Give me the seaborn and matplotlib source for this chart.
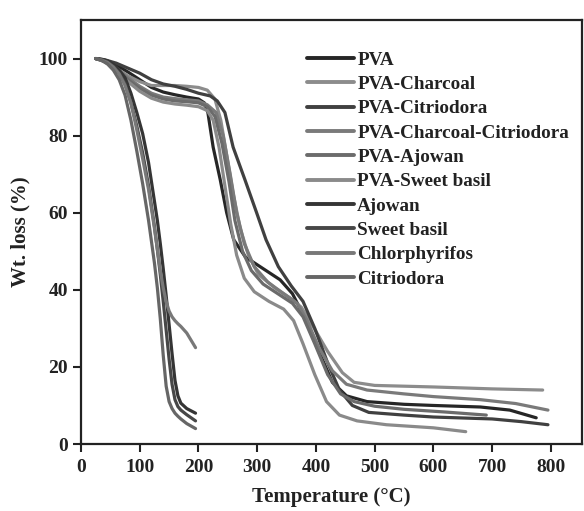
import pandas as pd
import matplotlib
matplotlib.use("Agg")
import matplotlib.pyplot as plt
import seaborn as sns

# TGA curves (temperature in C, weight %)
pva_t = [25, 40, 60, 80, 100, 120, 140, 160, 180, 200, 210, 216, 225, 237, 248, 260, 280, 310,
         339, 360, 380, 405, 428, 452, 487, 550, 600, 680, 730, 775]
pva_w = [100, 99.5, 98.3, 96.5, 94.5, 92.5, 91.3, 90.6, 90, 89.5, 88.5, 86, 77, 68.6, 60, 53, 48.5, 45.5,
         42.6, 39, 33, 24, 16, 12.5, 11, 10.3, 10, 9.6, 8.8, 6.8]

charcoal_t = [25, 40, 60, 80, 100, 120, 140, 160, 180, 200, 215, 228, 238, 248, 259, 271, 285, 302,
              330, 355, 375, 395, 420, 445, 465, 500, 600, 700, 786]
charcoal_w = [100, 99.3, 97.5, 95.5, 94, 93, 93, 93, 92.8, 92.5, 91.8, 89.5, 84, 75, 65, 56, 49, 44,
              40.5, 38, 35.5, 30.5, 24, 18.5, 16, 15.2, 14.8, 14.3, 14]

citrio_t = [25, 40, 60, 80, 100, 120, 140, 160, 180, 200, 220, 232, 245, 259, 279, 299, 315, 336,
            358, 378, 398, 420, 440, 462, 490, 550, 600, 700, 750, 795]
citrio_w = [100, 99.7, 98.8, 97.5, 96.2, 94.5, 93.4, 92.8, 92, 91, 90.3, 89, 86, 77, 68.6, 60, 53, 46,
            41, 37, 30, 21, 14, 10, 8.2, 7.5, 7, 6.5, 5.8, 5]

char_citrio_t = [25, 40, 60, 80, 100, 120, 140, 160, 180, 200, 215, 230, 242, 254, 265, 278, 295, 318,
                 345, 368, 385, 405, 428, 452, 487, 550, 600, 680, 740, 795]
char_citrio_w = [100, 99.4, 97.5, 95, 92.8, 91, 90, 89.6, 89.3, 89, 88, 86, 80, 70, 60, 52, 46, 42,
                 39, 36.5, 32, 25, 19, 15.5, 14, 13, 12.3, 11.5, 10.5, 8.8]

pva_ajowan_t = [25, 40, 60, 80, 100, 120, 140, 160, 180, 200, 215, 228, 240, 252, 262, 275, 290, 310,
                335, 360, 378, 398, 420, 442, 465, 500, 550, 620, 690]
pva_ajowan_w = [100, 99.3, 97.2, 94.5, 92.3, 90.5, 89.5, 89, 88.8, 88.5, 87.5, 85, 78, 68, 58, 50, 45, 41.5,
                39, 36.5, 33, 26, 18, 13, 11, 9.8, 9, 8.3, 7.5]

pva_basil_t = [25, 40, 60, 80, 100, 120, 140, 160, 180, 200, 215, 225, 235, 245, 255, 265, 278, 295,
               320, 345, 362, 378, 398, 418, 440, 470, 520, 600, 655]
pva_basil_w = [100, 99.2, 97, 94, 91.5, 89.7, 88.7, 88.2, 87.9, 87.5, 86.5, 84, 77, 67, 57, 49, 43, 39.5,
               37, 35, 32, 26, 18, 11, 7.5, 6, 5, 4.2, 3.2]

oil_t = [25, 35, 45, 55, 65, 75, 85, 95, 105, 115, 125, 130, 135, 140, 145, 150, 155, 160, 165, 170, 180, 195]
ajowan_w = [100, 99.8, 99.4, 98.5, 97, 95, 91, 86, 80.5, 73, 63, 58, 52, 45.5, 38.5, 31, 23.5, 16.5, 12.5,
            10.6, 9.2, 8]
basil_w = [100, 99.7, 99.1, 98, 96.2, 93.5, 88.5, 82.5, 75.5, 67, 56.5, 50.5, 44, 37, 29.5, 22, 15.5, 11.5,
           9.7, 8.8, 7.6, 6]
chlor_w = [100, 99.6, 99, 97.8, 96, 93, 88.5, 81.5, 74, 66, 56, 50.5, 45, 40.5, 37, 34.5, 33, 32, 31.2,
           30.5, 28.8, 25]
citriodora_w = [100, 99.5, 98.6, 97, 94.5, 90.5, 84, 76, 67.5, 58, 47, 40.5, 32.5, 23, 15, 11, 9.2, 8, 7.2,
                6.5, 5.3, 4]

names = ["PVA", "PVA-Charcoal", "PVA-Citriodora", "PVA-Charcoal-Citriodora", "PVA-Ajowan",
         "PVA-Sweet basil", "Ajowan", "Sweet basil", "Chlorphyrifos", "Citriodora"]
colors = ["#262626", "#8c8c8c", "#404040", "#7a7a7a", "#6b6b6b",
          "#8a8a8a", "#353535", "#474747", "#787878", "#666666"]

series = [(pva_t, pva_w), (charcoal_t, charcoal_w), (citrio_t, citrio_w),
          (char_citrio_t, char_citrio_w), (pva_ajowan_t, pva_ajowan_w), (pva_basil_t, pva_basil_w),
          (oil_t, ajowan_w), (oil_t, basil_w), (oil_t, chlor_w), (oil_t, citriodora_w)]

frames = []
for name, (t, w) in zip(names, series):
    frames.append(pd.DataFrame({"Temperature": t, "Weight": w, "Sample": name}))
df = pd.concat(frames, ignore_index=True)

sns.set_style("ticks")
plt.rcParams["font.family"] = ["Liberation Serif", "DejaVu Serif"]
plt.rcParams["font.weight"] = "bold"

fig = plt.figure(figsize=(5.84, 5.11), dpi=100)
ax = fig.add_axes([0.1387, 0.1311, 0.8579, 0.8298])

sns.lineplot(data=df, x="Temperature", y="Weight", hue="Sample", hue_order=names,
             palette=dict(zip(names, colors)), estimator=None, sort=True,
             linewidth=2.3, ax=ax)

ax.set_xlim(0, 853)
ax.set_ylim(0, 110)
ax.set_xticks(range(0, 801, 100))
ax.set_yticks(range(0, 101, 20))
ax.tick_params(direction="out", length=6, width=1.5, labelsize=14, colors="#222222")
ax.tick_params(axis="x", pad=5)
for sp in ax.spines.values():
    sp.set_linewidth(1.6)
    sp.set_color("#222222")

ax.set_xlabel("Temperature (\u00b0C)", fontsize=15, fontweight="bold", color="#222222", labelpad=8)
ax.set_ylabel("Wt. loss (%)", fontsize=15, fontweight="bold", color="#222222", labelpad=6)

leg = ax.legend(loc="upper left", bbox_to_anchor=(0.452, 0.926), frameon=False,
                fontsize=13.8, handlelength=2.45, handletextpad=0.15, labelspacing=0.36,
                borderpad=0, borderaxespad=0)
for line in leg.get_lines():
    line.set_linewidth(2.8)
for txt in leg.get_texts():
    txt.set_color("#222222")
    txt.set_fontweight("bold")

fig.savefig("out.png", dpi=100)
